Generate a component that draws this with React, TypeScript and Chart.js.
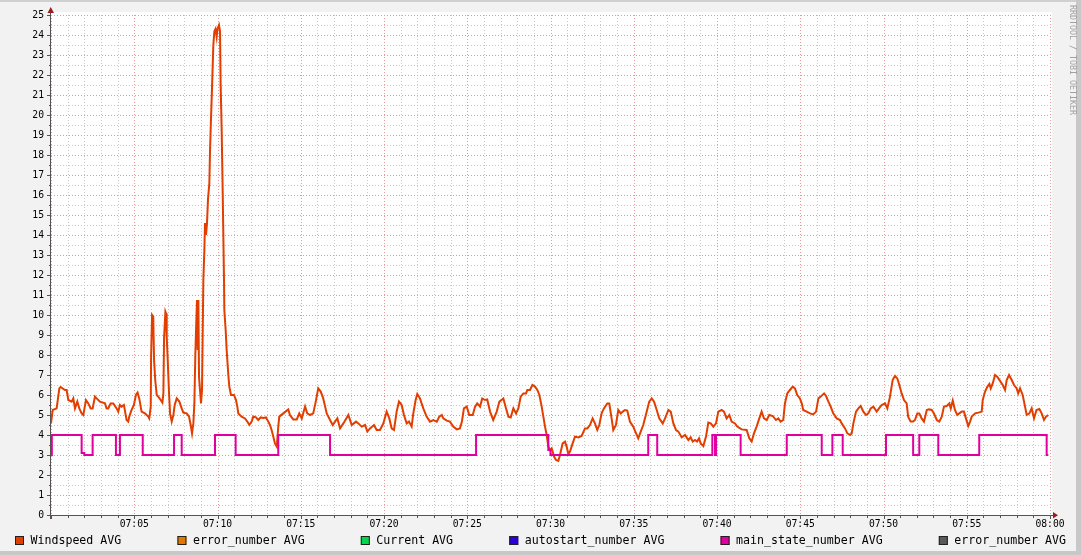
import React, { useEffect, useRef } from 'react';
import { Chart, registerables } from 'chart.js';

Chart.register(...registerables);

// ---- data (minutes after 07:00) ----
const windMinutes = [
  0, 0.10, 0.34, 0.50, 0.58, 0.84, 0.94, 1.04, 1.24, 1.34,
  1.44, 1.58, 1.70, 1.84, 1.94, 2.10, 2.24, 2.38, 2.50, 2.64,
  2.74, 2.94, 3.24, 3.34, 3.44, 3.58, 3.74, 3.94, 4.04, 4.14,
  4.24, 4.38, 4.54, 4.64, 4.70, 4.84, 4.98, 5.10, 5.20, 5.30,
  5.44, 5.64, 5.84, 5.90, 5.99, 6.01, 6.07, 6.14, 6.19, 6.26,
  6.35, 6.44, 6.59, 6.69, 6.75, 6.79, 6.87, 6.91, 6.95, 7.01,
  7.09, 7.15, 7.25, 7.35, 7.43, 7.55, 7.71, 7.85, 7.95, 8.15,
  8.29, 8.39, 8.47, 8.55, 8.61, 8.67, 8.73, 8.77, 8.81, 8.85,
  8.89, 8.95, 9.01, 9.07, 9.15, 9.21, 9.25, 9.31, 9.37, 9.43,
  9.51, 9.55, 9.61, 9.67, 9.75, 9.81, 9.88, 9.95, 10.00, 10.09,
  10.15, 10.19, 10.25, 10.31, 10.39, 10.41, 10.49, 10.55, 10.65, 10.71,
  10.81, 10.99, 11.11, 11.19, 11.25, 11.45, 11.65, 11.79, 11.91, 12.05,
  12.15, 12.31, 12.45, 12.59, 12.75, 12.91, 13.05, 13.15, 13.25, 13.35,
  13.45, 13.56, 13.65, 13.71, 13.95, 14.25, 14.35, 14.55, 14.76, 14.91,
  15.06, 15.26, 15.39, 15.56, 15.75, 15.90, 16.05, 16.20, 16.35, 16.56,
  16.76, 16.92, 17.06, 17.20, 17.36, 17.56, 17.86, 18.06, 18.32, 18.46,
  18.66, 18.86, 19.00, 19.16, 19.40, 19.56, 19.76, 19.96, 20.16, 20.32,
  20.46, 20.60, 20.76, 20.90, 21.06, 21.20, 21.36, 21.50, 21.66, 21.76,
  21.90, 22.00, 22.16, 22.36, 22.56, 22.76, 22.96, 23.17, 23.32, 23.47,
  23.56, 23.77, 23.96, 24.16, 24.37, 24.56, 24.68, 24.80, 24.97, 25.12,
  25.33, 25.47, 25.60, 25.77, 25.90, 26.07, 26.20, 26.37, 26.56, 26.77,
  26.93, 27.17, 27.33, 27.47, 27.61, 27.77, 27.93, 28.07, 28.21, 28.37,
  28.53, 28.61, 28.77, 28.91, 29.07, 29.21, 29.33, 29.47, 29.57, 29.67,
  29.77, 29.87, 29.97, 30.07, 30.13, 30.21, 30.33, 30.47, 30.57, 30.73,
  30.87, 30.97, 31.07, 31.17, 31.33, 31.47, 31.67, 31.87, 32.07, 32.21,
  32.37, 32.53, 32.67, 32.81, 32.93, 33.07, 33.21, 33.41, 33.53, 33.67,
  33.77, 33.93, 34.07, 34.22, 34.34, 34.47, 34.61, 34.77, 34.97, 35.14,
  35.27, 35.42, 35.57, 35.78, 35.93, 36.08, 36.22, 36.38, 36.53, 36.74,
  36.88, 37.08, 37.22, 37.38, 37.54, 37.68, 37.88, 38.08, 38.28, 38.42,
  38.54, 38.68, 38.80, 38.92, 39.02, 39.18, 39.34, 39.48, 39.62, 39.78,
  39.94, 40.08, 40.28, 40.42, 40.58, 40.74, 40.88, 41.08, 41.22, 41.48,
  41.78, 41.94, 42.08, 42.22, 42.38, 42.54, 42.68, 42.82, 42.98, 43.14,
  43.35, 43.54, 43.68, 43.82, 43.98, 44.08, 44.22, 44.38, 44.55, 44.68,
  44.82, 44.98, 45.09, 45.18, 45.38, 45.59, 45.78, 45.95, 46.09, 46.23,
  46.43, 46.55, 46.69, 46.83, 46.98, 47.19, 47.39, 47.49, 47.69, 47.83,
  47.99, 48.09, 48.19, 48.35, 48.49, 48.63, 48.79, 48.95, 49.09, 49.23,
  49.39, 49.59, 49.73, 49.89, 50.09, 50.23, 50.39, 50.55, 50.69, 50.83,
  50.95, 51.09, 51.23, 51.39, 51.48, 51.63, 51.78, 51.89, 52.03, 52.15,
  52.29, 52.43, 52.60, 52.73, 52.90, 53.03, 53.20, 53.35, 53.50, 53.63,
  53.80, 53.95, 54.04, 54.16, 54.29, 54.43, 54.55, 54.70, 54.83, 54.95,
  55.09, 55.20, 55.30, 55.50, 55.70, 55.90, 55.96, 56.10, 56.24, 56.36,
  56.44, 56.56, 56.70, 56.83, 56.99, 57.16, 57.30, 57.40, 57.54, 57.70,
  57.84, 58.00, 58.09, 58.20, 58.36, 58.50, 58.60, 58.76, 58.90, 59.04,
  59.19, 59.36, 59.50, 59.64, 59.76, 59.90,
];

const windSpeed = [
  4.60, 5.25, 5.33, 6.33, 6.40, 6.25, 6.25, 5.75, 5.67, 5.83,
  5.33, 5.67, 5.33, 5.08, 5.00, 5.75, 5.58, 5.33, 5.33, 5.92,
  5.83, 5.67, 5.58, 5.33, 5.33, 5.58, 5.58, 5.33, 5.17, 5.50,
  5.42, 5.50, 4.75, 4.67, 4.92, 5.25, 5.50, 6.00, 6.12, 5.83,
  5.17, 5.08, 4.92, 4.83, 5.42, 7.83, 10.00, 9.92, 7.75, 6.75,
  6.00, 5.92, 5.75, 5.62, 6.08, 8.83, 10.17, 10.08, 8.92, 7.75,
  6.08, 5.08, 4.67, 5.00, 5.50, 5.83, 5.67, 5.33, 5.12, 5.08,
  4.92, 4.50, 4.08, 4.58, 5.58, 8.08, 9.75, 10.75, 8.25, 10.75,
  6.92, 6.25, 5.58, 6.25, 11.75, 13.20, 14.60, 14.00, 14.60, 15.80,
  16.58, 18.17, 19.83, 21.33, 23.50, 24.17, 24.30, 23.90, 24.30, 24.50,
  24.20, 21.50, 19.25, 16.25, 11.75, 10.25, 9.25, 8.25, 7.00, 6.42,
  6.00, 6.00, 5.75, 5.42, 5.08, 4.92, 4.83, 4.67, 4.50, 4.67,
  4.92, 4.88, 4.75, 4.88, 4.85, 4.88, 4.67, 4.50, 4.25, 3.92,
  3.58, 3.42, 4.42, 4.92, 5.08, 5.28, 5.00, 4.78, 4.78, 5.08,
  4.83, 5.42, 5.08, 5.00, 5.08, 5.67, 6.33, 6.17, 5.83, 5.08,
  4.75, 4.50, 4.67, 4.83, 4.33, 4.58, 5.00, 4.50, 4.67, 4.58,
  4.42, 4.50, 4.17, 4.33, 4.50, 4.25, 4.25, 4.58, 5.17, 4.83,
  4.33, 4.25, 5.17, 5.67, 5.50, 5.00, 4.58, 4.67, 4.42, 5.08,
  5.75, 6.05, 5.83, 5.33, 4.92, 4.67, 4.75, 4.67, 4.92, 5.00,
  4.83, 4.72, 4.67, 4.42, 4.28, 4.33, 4.67, 5.33, 5.42, 5.00,
  5.00, 5.42, 5.58, 5.42, 5.83, 5.75, 5.78, 5.17, 4.75, 5.17,
  5.67, 5.83, 5.33, 4.92, 4.88, 5.33, 5.08, 5.33, 5.92, 6.08,
  6.08, 6.25, 6.25, 6.50, 6.42, 6.25, 6.00, 5.42, 4.92, 4.42,
  4.00, 3.42, 3.25, 3.33, 3.17, 2.92, 2.75, 2.70, 3.00, 3.58,
  3.67, 3.42, 3.05, 3.17, 3.58, 3.92, 3.88, 3.95, 4.33, 4.33,
  4.50, 4.83, 4.58, 4.25, 4.50, 5.08, 5.33, 5.58, 5.58, 4.83,
  4.25, 4.50, 5.25, 5.08, 5.17, 5.25, 5.22, 4.67, 4.42, 4.08,
  3.83, 4.17, 4.50, 5.17, 5.67, 5.83, 5.67, 5.25, 4.83, 4.58,
  4.83, 5.25, 5.17, 4.58, 4.25, 4.17, 3.88, 4.00, 3.75, 3.88,
  3.67, 3.75, 3.67, 3.83, 3.58, 3.45, 3.92, 4.62, 4.58, 4.42,
  4.58, 5.17, 5.25, 5.17, 4.83, 5.00, 4.67, 4.58, 4.42, 4.28,
  4.25, 3.83, 3.67, 4.08, 4.42, 4.83, 5.17, 4.83, 4.75, 5.00,
  4.95, 4.75, 4.83, 4.67, 4.75, 5.58, 6.08, 6.25, 6.42, 6.33,
  6.00, 5.83, 5.58, 5.25, 5.17, 5.08, 5.03, 5.17, 5.83, 5.92,
  6.08, 5.95, 5.67, 5.42, 5.08, 4.83, 4.75, 4.58, 4.33, 4.08,
  4.00, 4.08, 4.58, 5.17, 5.33, 5.45, 5.17, 5.00, 5.08, 5.33,
  5.42, 5.17, 5.33, 5.50, 5.58, 5.33, 5.92, 6.75, 6.95, 6.83,
  6.50, 6.08, 5.75, 5.58, 4.92, 4.67, 4.67, 4.75, 5.08, 5.08,
  4.83, 4.67, 5.25, 5.28, 5.25, 5.08, 4.75, 4.67, 4.92, 5.42,
  5.45, 5.58, 5.33, 5.72, 5.25, 5.00, 5.08, 5.17, 5.17, 4.83,
  4.45, 4.67, 4.92, 5.08, 5.12, 5.17, 5.75, 6.17, 6.42, 6.55,
  6.33, 6.58, 7.00, 6.92, 6.72, 6.50, 6.25, 6.75, 7.00, 6.75,
  6.50, 6.33, 6.08, 6.33, 6.00, 5.42, 5.00, 5.08, 5.33, 4.83,
  5.25, 5.30, 5.08, 4.75, 4.92, 5.00,
];

const stateMinutes = [
  0, 0.05, 1.84, 2.00, 2.50, 3.90, 4.14, 5.51, 7.39, 7.85,
  9.85, 11.09, 13.65, 16.76, 25.53, 29.87, 30.00, 35.87, 36.41, 39.72,
  39.88, 39.94, 41.42, 44.19, 46.29, 46.93, 47.55, 50.15, 51.78, 52.15,
  53.29, 55.75, 59.80, 59.90,
];
const stateValues = [
  3, 4, 3.1, 3, 4, 3, 4, 3, 4, 3,
  4, 3, 4, 3, 4, 3.25, 3, 4, 3, 4,
  3, 4, 3, 4, 3, 4, 3, 4, 3, 4,
  3, 4, 3, 3,
];

const xTickLabels = ['', '07:05', '07:10', '07:15', '07:20', '07:25', '07:30', '07:35', '07:40', '07:45', '07:50', '07:55', '08:00'];
const legendNames = ['Windspeed AVG', 'error_number AVG', 'Current AVG', 'autostart_number AVG', 'main_state_number AVG', 'error_number AVG'];
const legendColors = ['#E23E00', '#E07800', '#00D84A', '#2A00E0', '#E000A0', '#595959'];
const watermark = 'RRDTOOL / TOBI OETIKER';

const MONO = '"DejaVu Sans Mono", monospace';

const rrdPlugin = {
  id: 'rrdLook',
  beforeDraw(chart: any) {
    const { ctx, width, height, chartArea: a, scales } = chart;
    const x = scales.x;
    const y = scales.y;
    ctx.save();
    ctx.fillStyle = '#F2F2F2';
    ctx.fillRect(0, 0, width, height);
    ctx.fillStyle = '#D0D0D0';
    ctx.fillRect(0, 0, width, 2);
    ctx.fillStyle = '#C8C8C8';
    ctx.fillRect(width - 5, 0, 5, height);
    ctx.fillRect(0, height - 4, width, 4);
    ctx.fillStyle = '#FFFFFF';
    ctx.fillRect(a.left, a.top - 3, a.right - a.left + 2, a.bottom - a.top + 3);

    ctx.lineWidth = 1;
    const drawV = (m: number, color: string) => {
      const px = Math.round(x.getPixelForValue(m)) + 0.5;
      ctx.strokeStyle = color;
      ctx.beginPath();
      ctx.moveTo(px, a.top);
      ctx.lineTo(px, a.bottom);
      ctx.stroke();
    };
    const drawH = (v: number, color: string) => {
      const py = Math.round(y.getPixelForValue(v)) + 0.5;
      ctx.strokeStyle = color;
      ctx.beginPath();
      ctx.moveTo(a.left, py);
      ctx.lineTo(a.right, py);
      ctx.stroke();
    };
    const minor = '#C8C8C8';
    const major = '#E59A9A';
    ctx.setLineDash([1, 2]);
    for (let m = 0; m <= 60; m++) if (m % 5 !== 0) drawV(m, minor);
    for (let k = 0; k <= 50; k++) if (k % 2 !== 0) drawH(k / 2, minor);
    for (let m = 0; m <= 60; m += 5) drawV(m, major);
    for (let v = 0; v <= 25; v++) drawH(v, major);
    ctx.restore();
  },
  afterDatasetsDraw(chart: any) {
    const { ctx, width, chartArea: a, scales } = chart;
    const x = scales.x;
    const y = scales.y;
    ctx.save();
    ctx.setLineDash([]);
    ctx.lineWidth = 1;
    ctx.strokeStyle = '#5A5050';
    // ticks
    for (let m = 0; m <= 60; m++) {
      const px = Math.round(x.getPixelForValue(m)) + 0.5;
      ctx.beginPath();
      ctx.moveTo(px, a.bottom + 1);
      ctx.lineTo(px, a.bottom + (m % 5 === 0 ? 4 : 3));
      ctx.stroke();
    }
    for (let k = 0; k <= 50; k++) {
      const py = Math.round(y.getPixelForValue(k / 2)) + 0.5;
      ctx.beginPath();
      ctx.moveTo(a.left - (k % 2 === 0 ? 4 : 2), py);
      ctx.lineTo(a.left, py);
      ctx.stroke();
    }
    // axes
    const ax = Math.round(a.left) - 0.5;
    const ay = Math.round(a.bottom) + 0.5;
    ctx.beginPath();
    ctx.moveTo(a.left - 3, ay);
    ctx.lineTo(a.right + 3, ay);
    ctx.stroke();
    ctx.beginPath();
    ctx.moveTo(ax, a.bottom + 4);
    ctx.lineTo(ax, a.top - 3);
    ctx.stroke();
    ctx.fillStyle = '#9B1C1C';
    ctx.beginPath();
    ctx.moveTo(ax - 3, a.top - 2);
    ctx.lineTo(ax + 3.5, a.top - 2);
    ctx.lineTo(ax + 0.25, a.top - 8);
    ctx.closePath();
    ctx.fill();
    ctx.beginPath();
    ctx.moveTo(a.right + 3, ay - 3.5);
    ctx.lineTo(a.right + 3, ay + 3);
    ctx.lineTo(a.right + 8, ay - 0.25);
    ctx.closePath();
    ctx.fill();

    // legend
    ctx.font = '11.6px ' + MONO;
    ctx.textBaseline = 'middle';
    const boxGap = 15.5;
    const widths = legendNames.map((n) => boxGap + ctx.measureText(n).width);
    const left = 15;
    const right = 1066;
    const total = widths.reduce((s, w) => s + w, 0);
    const gap = (right - left - total) / (legendNames.length - 1);
    let lx = left;
    legendNames.forEach((name, i) => {
      ctx.fillStyle = legendColors[i];
      ctx.fillRect(lx, 536, 9, 9);
      ctx.strokeStyle = '#202020';
      ctx.strokeRect(lx + 0.5, 536.5, 8, 8);
      ctx.fillStyle = '#000000';
      ctx.fillText(name, lx + boxGap, 541);
      lx += widths[i] + gap;
    });

    // watermark
    ctx.translate(width - 9, 5);
    ctx.rotate(Math.PI / 2);
    ctx.font = '8.3px ' + MONO;
    ctx.fillStyle = '#A0A0A0';
    ctx.textBaseline = 'middle';
    ctx.textAlign = 'left';
    ctx.fillText(watermark, 0, 0);
    ctx.restore();
  },
};

export default function App() {
  const ref = useRef<HTMLCanvasElement>(null);
  useEffect(() => {
    document.body.style.margin = '0';
    const canvas = ref.current;
    if (!canvas) return;
    const chart = new Chart(canvas, {
      type: 'line',
      data: {
        datasets: [
          {
            label: 'main_state_number AVG',
            data: stateMinutes.map((m, i) => ({ x: m, y: stateValues[i] })),
            borderColor: legendColors[4],
            borderWidth: 2,
            stepped: true,
            pointRadius: 0,
            fill: false,
            order: 0,
          },
          {
            label: 'Windspeed AVG',
            data: windMinutes.map((m, i) => ({ x: m, y: windSpeed[i] })),
            borderColor: legendColors[0],
            borderWidth: 2,
            tension: 0,
            pointRadius: 0,
            fill: false,
            order: 1,
          },
        ],
      },
      options: {
        responsive: false,
        animation: false,
        devicePixelRatio: 1,
        events: [],
        layout: { padding: { top: 15, right: 31, bottom: 0, left: 0 } },
        plugins: { legend: { display: false }, tooltip: { enabled: false } },
        scales: {
          x: {
            type: 'linear',
            min: 0,
            max: 60,
            grid: { display: false, drawTicks: false },
            border: { display: false },
            ticks: {
              stepSize: 5,
              autoSkip: false,
              maxRotation: 0,
              padding: 4,
              color: '#000000',
              font: { family: MONO, size: 9.7 },
              callback: (v: any) => xTickLabels[Math.round(Number(v) / 5)] ?? '',
            },
            afterFit: (s: any) => { s.height = 40; },
          },
          y: {
            min: 0,
            max: 25,
            grid: { display: false, drawTicks: false },
            border: { display: false },
            ticks: {
              stepSize: 1,
              padding: 7,
              color: '#000000',
              font: { family: MONO, size: 9.7 },
            },
            afterFit: (s: any) => { s.width = 51; },
          },
        },
      },
      plugins: [rrdPlugin],
    } as any);
    return () => chart.destroy();
  }, []);
  return <canvas ref={ref} width={1081} height={555} style={{ display: 'block' }} />;
}
